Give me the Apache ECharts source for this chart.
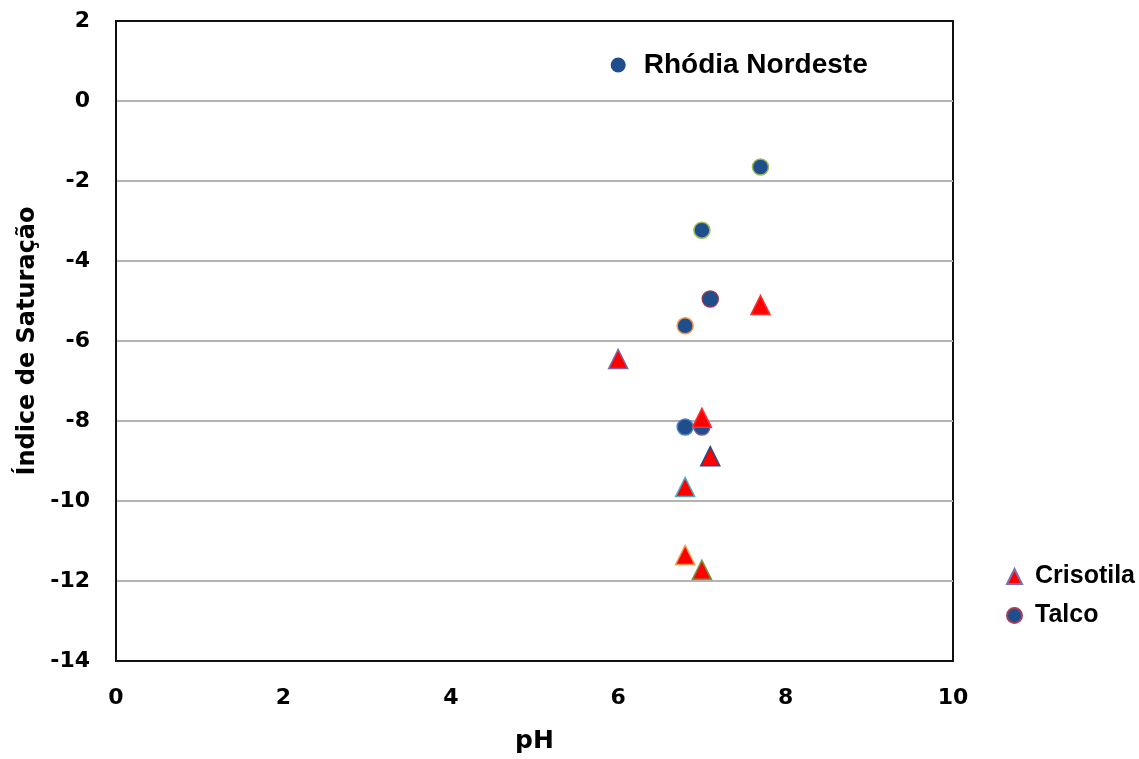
<!DOCTYPE html>
<html>
<head>
<meta charset="utf-8">
<script src="https://cdn.jsdelivr.net/npm/echarts@6/dist/echarts.min.js"></script>
<style>
html,body{margin:0;padding:0;background:#fff;}
#chart{width:1139px;height:759px;}
</style>
</head>
<body>
<div id="chart"></div>
<script>
// Data
var xTicks = [0, 2, 4, 6, 8, 10];
var yTicks = [2, 0, -2, -4, -6, -8, -10, -12, -14];

var talcoPH  = [7.7, 7.0, 7.1, 6.8, 6.8, 7.0];
var talcoSI  = [-1.65, -3.23, -4.95, -5.62, -8.15, -8.15];

var crisoPH  = [7.7, 6.0, 7.0, 7.1, 6.8, 6.8, 7.0];
var crisoSI  = [-5.1, -6.45, -7.92, -8.88, -9.65, -11.35, -11.72];

var rhodiaPH = [6.0];
var rhodiaSI = [0.9];
var rhodiaLabel = 'Rhódia Nordeste';

// marker outline styles (style only)
var talcoBorders = ['#9bbb59', '#9bbb59', '#8b3a5a', '#f79646', '#4f81bd', '#6f5a9a'];
var crisoBorders = ['#ff3030', '#8064a2', '#ff3030', '#1f4e8c', '#4bacc6', '#f79646', '#77933c'];

function pairs(xs, ys, borders) {
  return xs.map(function (x, i) {
    var d = { value: [x, ys[i]] };
    if (borders) d.itemStyle = { borderColor: borders[i] };
    return d;
  });
}

var axisFont = 'DejaVu Sans';
var chart = echarts.init(document.getElementById('chart'));
chart.setOption({
  backgroundColor: '#ffffff',
  animation: false,
  grid: {
    left: 116, right: 186, top: 21, bottom: 97,
    show: true, borderColor: '#111', borderWidth: 2, backgroundColor: 'transparent'
  },
  xAxis: {
    type: 'value', min: xTicks[0], max: xTicks[xTicks.length - 1], interval: 2,
    name: 'pH', nameLocation: 'middle', nameGap: 68,
    nameTextStyle: { fontFamily: axisFont, fontWeight: 'bold', fontSize: 25, color: '#000' },
    axisLine: { show: true, onZero: false, lineStyle: { color: '#111', width: 2 } },
    axisTick: { show: false },
    splitLine: { show: false },
    axisLabel: { margin: 26, fontFamily: axisFont, fontWeight: 'bold', fontSize: 22, color: '#000' }
  },
  yAxis: {
    type: 'value', min: yTicks[yTicks.length - 1], max: yTicks[0], interval: 2,
    name: 'Índice de Saturação', nameLocation: 'middle', nameGap: 65, nameRotate: 90,
    nameTextStyle: { fontFamily: axisFont, fontWeight: 'bold', fontSize: 24, color: '#000' },
    axisLine: { show: true, onZero: false, lineStyle: { color: '#111', width: 2 } },
    axisTick: { show: false },
    splitLine: { show: true, showMinLine: false, showMaxLine: false, lineStyle: { color: '#b3b3b3', width: 2 } },
    axisLabel: { margin: 26, fontFamily: axisFont, fontWeight: 'bold', fontSize: 22, color: '#000' }
  },
  legend: {
    orient: 'vertical', left: 1001, top: 559, itemGap: 14,
    itemWidth: 15, itemHeight: 15,
    data: ['Crisotila', 'Talco'],
    textStyle: { fontFamily: 'Liberation Sans', fontWeight: 'bold', fontSize: 25, color: '#000', padding: [0, 0, 0, 8] }
  },
  series: [
    {
      name: 'Crisotila', type: 'scatter', symbol: 'triangle', symbolSize: 19,
      itemStyle: { color: '#ff0000', borderColor: '#7f6fa8', borderWidth: 1.5, opacity: 1 },
      data: pairs(crisoPH, crisoSI, crisoBorders), z: 3
    },
    {
      name: 'Talco', type: 'scatter', symbol: 'circle', symbolSize: 16,
      itemStyle: { color: '#1f4e8c', borderColor: '#a0405a', borderWidth: 1.5, opacity: 1 },
      data: pairs(talcoPH, talcoSI, talcoBorders), z: 2
    },
    {
      name: 'Rhódia', type: 'scatter', symbol: 'circle', symbolSize: 15,
      itemStyle: { color: '#1f4e8c', opacity: 1 },
      data: pairs(rhodiaPH, rhodiaSI),
      label: {
        show: true, position: 'right', distance: 18,
        formatter: rhodiaLabel, opacity: 1,
        fontFamily: 'Liberation Sans', fontWeight: 'bold', fontSize: 28, color: '#000'
      },
      silent: true
    }
  ]
});
</script>
</body>
</html>
